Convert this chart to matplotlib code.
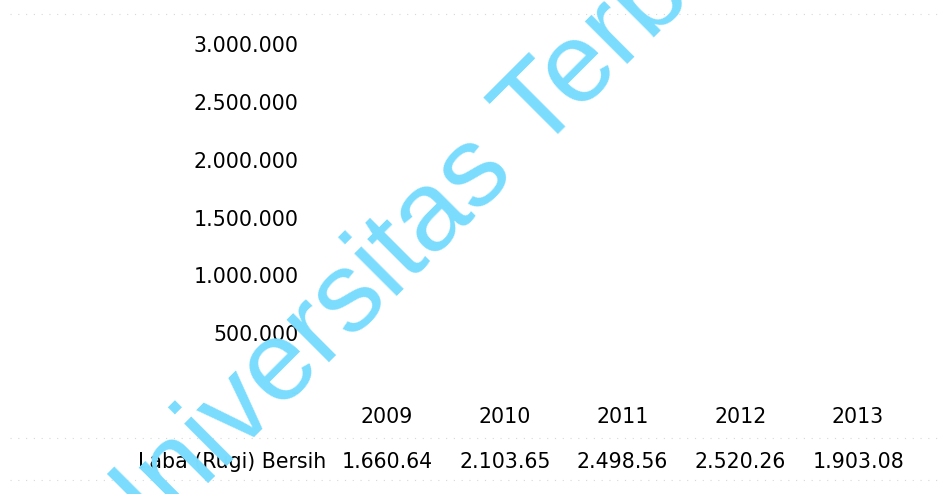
import matplotlib
matplotlib.use("Agg")
import matplotlib.pyplot as plt

# data
years = ["2009", "2010", "2011", "2012", "2013"]
laba_labels = ["1.660.64", "2.103.65", "2.498.56", "2.520.26", "1.903.08"]
row_name = "Laba (Rugi) Bersih"
y_ticks = [0, 500000, 1000000, 1500000, 2000000, 2500000, 3000000]
watermark = "Universitas Terbuka"

W, H = 942, 494


def fx(x):
    return x / W


def fy(y):
    return 1 - y / H


def fmt(v):
    if v == 0:
        return "-"
    return f"{v:,}".replace(",", ".")


fig = plt.figure(figsize=(W / 100, H / 100), dpi=100)
fig.patch.set_facecolor("white")

# plot area (the bars did not survive the scan)
ax = fig.add_axes([fx(328), fy(391), fx(917) - fx(328), (391 - 44) / H])
ax.set_xlim(-0.5, len(years) - 0.5)
ax.set_ylim(0, 3000000)
ax.set_yticks(y_ticks)
ax.set_yticklabels([fmt(v) for v in y_ticks], fontsize=14.8, family="DejaVu Sans")
ax.tick_params(axis="y", length=0, pad=21)
ax.set_xticks([])
for s in ax.spines.values():
    s.set_visible(False)

# data table under the plot
xt = ax.get_xaxis_transform()
ybase_year = (391 - 423) / (391 - 44)
ybase_val = (391 - 468) / (391 - 44)
for i, (yr, lab) in enumerate(zip(years, laba_labels)):
    ax.text(i, ybase_year, yr, transform=xt, ha="center", va="baseline",
            fontsize=14.8, clip_on=False)
    ax.text(i, ybase_val, lab, transform=xt, ha="center", va="baseline",
            fontsize=14.8, clip_on=False)
fig.text(fx(326), fy(468), row_name, ha="right", va="baseline", fontsize=14.8)

# faint dotted remnants of the table borders
for yy in [14, 438, 480]:
    fig.add_artist(plt.Line2D([fx(10), fx(940)], [fy(yy), fy(yy)],
                              color="#d8d8d8", lw=0.8, ls=(0, (1, 6))))

# watermark
fig.text(fx(118), fy(573), watermark, rotation=45, rotation_mode="anchor",
         ha="left", va="baseline", fontsize=82, family="Liberation Sans",
         color="#7adcfe", zorder=10)

fig.savefig("out.png", dpi=100)
